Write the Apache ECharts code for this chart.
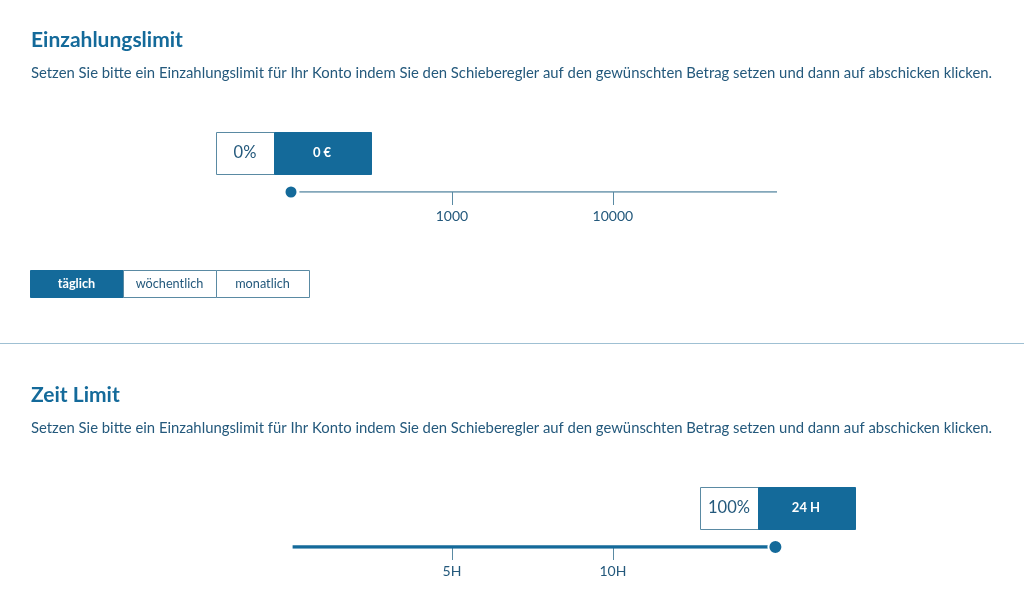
<!DOCTYPE html>
<html>
<head>
<meta charset="utf-8">
<style>
html, body { margin: 0; padding: 0; background: #fff; }
#chart { width: 1024px; height: 609px; }
</style>
<script src="https://cdn.jsdelivr.net/npm/echarts@6/dist/echarts.min.js"></script>
</head>
<body>
<div id="chart"></div>
<script>
// slider scale runs in steps, 0 is the left end and 3 the right end
var headings = ['Einzahlungslimit', 'Zeit Limit'];
var intro = 'Setzen Sie bitte ein Einzahlungslimit für Ihr Konto indem Sie den Schieberegler auf den gewünschten Betrag setzen und dann auf abschicken klicken.';

var tickSteps = [1, 2];
var moneyTicks = ['1000', '10000'];
var timeTicks = ['5H', '10H'];

var moneyTrack = [0, 3.02];
var moneyValue = [0];
var moneyPercent = '0%';
var moneyAmount = '0 €';

var timeTrack = [0.01, 3];
var timeValue = [3.01];
var timePercent = '100%';
var timeAmount = '24 H';

var periods = ['täglich', 'wöchentlich', 'monatlich'];

var BLUE = '#146a9a';
var TEXT = '#24597c';
var LINE = '#5a8aa3';
var FONT = 'Lato';

var chart = echarts.init(document.getElementById('chart'));

function xAxis(idx, labels) {
    return {
        type: 'value', gridIndex: idx, min: 0, max: 3.02,
        splitLine: { show: false },
        axisLine: { show: false },
        axisTick: { customValues: tickSteps, length: 13, lineStyle: { color: LINE, width: 1 } },
        axisLabel: {
            customValues: tickSteps, margin: 17, color: TEXT, fontFamily: FONT, fontSize: 14,
            formatter: function (v) { return labels[tickSteps.indexOf(v)]; }
        }
    };
}

function yAxis(idx) {
    return { type: 'value', gridIndex: idx, min: 0, max: 1, show: false };
}

function track(idx, xs, color, width) {
    return {
        type: 'line', xAxisIndex: idx, yAxisIndex: idx, silent: true, symbol: 'none',
        lineStyle: { color: color, width: width },
        data: xs.map(function (x) { return [x, 0]; })
    };
}

function handle(idx, xs, size, border) {
    return {
        type: 'scatter', xAxisIndex: idx, yAxisIndex: idx, silent: true, z: 5, symbolSize: size,
        itemStyle: { color: BLUE, borderColor: '#fff', borderWidth: border, opacity: 1 },
        data: xs.map(function (x) { return [x, 0]; })
    };
}

chart.setOption({
    animation: false,
    backgroundColor: '#fff',
    grid: [
        { left: 291, width: 486, top: 152, height: 40 },
        { left: 291, width: 486, top: 507, height: 40 }
    ],
    xAxis: [xAxis(0, moneyTicks), xAxis(1, timeTicks)],
    yAxis: [yAxis(0), yAxis(1)],
    series: [
        track(0, moneyTrack, LINE, 1.5),
        handle(0, moneyValue, 14, 3),
        track(1, timeTrack, BLUE, 3.5),
        handle(1, timeValue, 14, 2)
    ]
});

function label(x, y, str, color, size, weight, align) {
    return {
        type: 'text', x: x, y: y, silent: true,
        style: {
            text: str, fill: color, fontFamily: FONT, fontSize: size, fontWeight: weight || 'normal',
            align: align || 'center', verticalAlign: 'middle'
        }
    };
}

function box(x, y, w, h, filled) {
    return {
        type: 'rect', silent: true,
        shape: { x: x + 0.5, y: y + 0.5, width: w, height: h },
        style: { fill: filled ? BLUE : '#fff', stroke: filled ? BLUE : LINE, lineWidth: 1 }
    };
}

// value box sits over the handle, so place it from the handle position
function valueBox(idx, step, percent, amount) {
    var p = chart.convertToPixel({ gridIndex: idx }, [step, 0]);
    var left = Math.round(p[0]) - 75;
    var top = p[1] - 60;
    return [
        box(left, top, 58, 42, false),
        box(left + 58, top, 97, 42, true),
        label(left + 29, top + 21, percent, TEXT, 16.5),
        label(left + 106, top + 21, amount, '#fff', 13, 'bold')
    ];
}

var elements = [
    label(31, 40, headings[0], BLUE, 21, 'bold', 'left'),
    label(31, 73, intro, TEXT, 14.85, 'normal', 'left'),
    label(31, 395, headings[1], BLUE, 21, 'bold', 'left'),
    label(31, 428, intro, TEXT, 14.85, 'normal', 'left'),
    { type: 'rect', silent: true, shape: { x: 0, y: 343, width: 1024, height: 1 }, style: { fill: '#9fc0d3' } }
];
elements = elements.concat(valueBox(0, moneyValue[0], moneyPercent, moneyAmount));
elements = elements.concat(valueBox(1, timeValue[0], timePercent, timeAmount));

periods.forEach(function (name, i) {
    var x = 30 + i * 93;
    elements.push(box(x, 270, 93, 27, i === 0));
    elements.push(label(x + 46.5, 284, name, i === 0 ? '#fff' : TEXT, 12.7, i === 0 ? 'bold' : 'normal'));
});

chart.setOption({ graphic: { elements: elements } });

window.addEventListener('resize', function () {
    chart.resize();
});
</script>
</body>
</html>
